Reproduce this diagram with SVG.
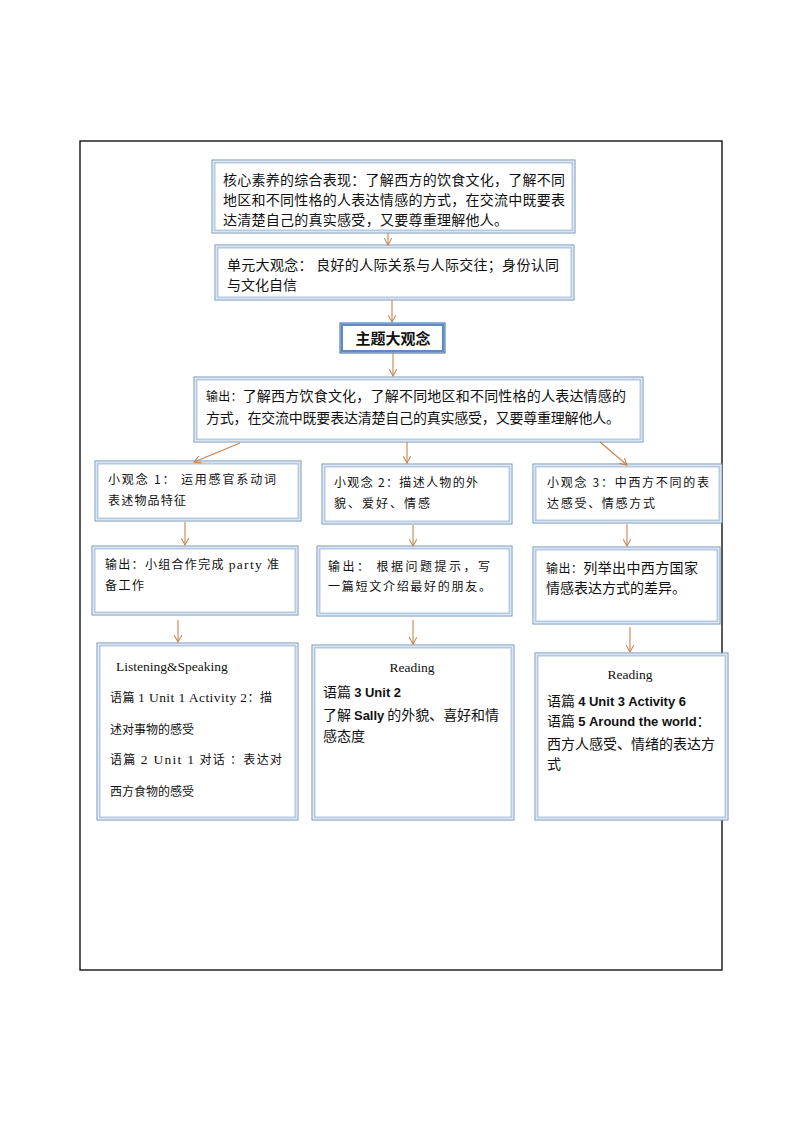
<svg xmlns="http://www.w3.org/2000/svg" width="794" height="1123" viewBox="0 0 794 1123">
<defs>
<marker id="ah" viewBox="0 0 10 10" refX="9" refY="5" markerWidth="8" markerHeight="8" markerUnits="userSpaceOnUse" orient="auto">
<path d="M0,0 L9,5 L0,10" fill="none" stroke="#C8834C" stroke-width="1.3"/>
</marker>
</defs>
<style>
.fr{fill:none;stroke:#000;stroke-width:1.3}
.bo{fill:#fff;stroke:#7393B8;stroke-width:1}
.bi{fill:none;stroke:#B5CAE4;stroke-width:2}
.t{font-family:"Noto Sans CJK SC","Liberation Sans",sans-serif;font-size:14px;fill:#111}
.s{font-family:"Noto Sans CJK SC","Liberation Sans",sans-serif;font-size:12px;fill:#111}
.e{font-family:"Liberation Serif","Noto Sans CJK SC",serif;font-size:13.5px;fill:#111}
.bd{font-family:"Liberation Sans","Noto Sans CJK SC",sans-serif;font-weight:bold;font-size:13px}
.c{fill:none;stroke:#C8834C;stroke-width:1.1;marker-end:url(#ah)}
</style>
<rect x="0" y="0" width="794" height="1123" fill="#fff"/>
<rect class="fr" x="80" y="141" width="642" height="829"/>

<g id="core">
<rect class="bo" x="212" y="160" width="363" height="73"/>
<rect class="bi" x="214.5" y="162.5" width="358" height="68"/>
<text class="t" x="223" y="185" textLength="342" lengthAdjust="spacing">核心素养的综合表现：了解西方的饮食文化，了解不同</text>
<text class="t" x="223" y="205" textLength="342" lengthAdjust="spacing">地区和不同性格的人表达情感的方式，在交流中既要表</text>
<text class="t" x="223" y="225" textLength="285" lengthAdjust="spacing">达清楚自己的真实感受，又要尊重理解他人。</text>
</g>

<g id="unit">
<rect class="bo" x="215" y="245" width="359" height="55"/>
<rect class="bi" x="217.5" y="247.5" width="354" height="50"/>
<text class="t" x="227" y="270" textLength="332" lengthAdjust="spacing">单元大观念： 良好的人际关系与人际交往；身份认同</text>
<text class="t" x="227" y="290">与文化自信</text>
</g>

<g id="theme">
<rect x="340" y="323" width="105" height="30" fill="#fff" stroke="#3B64A0" stroke-width="1"/>
<rect x="341.8" y="324.8" width="101.4" height="26.4" fill="none" stroke="#5B8AC6" stroke-width="2.4"/>
<text x="393" y="344" text-anchor="middle" font-family="Noto Sans CJK SC, sans-serif" font-weight="bold" font-size="15" fill="#111">主题大观念</text>
</g>

<g id="output">
<rect class="bo" x="194" y="377" width="449" height="65"/>
<rect class="bi" x="196.5" y="379.5" width="444" height="60"/>
<text class="t" x="206" y="401" textLength="420" lengthAdjust="spacing"><tspan font-size="12">输出：</tspan>了解西方饮食文化，了解不同地区和不同性格的人表达情感的</text>
<text class="t" x="206" y="423" textLength="414" lengthAdjust="spacing">方式，在交流中既要表达清楚自己的真实感受，又要尊重理解他人。</text>
</g>

<g id="idea1">
<rect class="bo" x="95" y="461" width="206" height="60"/>
<rect class="bi" x="97.5" y="463.5" width="201" height="55"/>
<text class="s" x="108" y="484" textLength="168" lengthAdjust="spacing">小观念 1：  运用感官系动词</text>
<text class="s" x="108" y="505" textLength="78" lengthAdjust="spacing">表述物品特征</text>
</g>

<g id="idea2">
<rect class="bo" x="322" y="464" width="190" height="60"/>
<rect class="bi" x="324.5" y="466.5" width="185" height="55"/>
<text class="s" x="334" y="487" textLength="144" lengthAdjust="spacing">小观念 2：描述人物的外</text>
<text class="s" x="334" y="508" textLength="96" lengthAdjust="spacing">貌、爱好、情感</text>
</g>

<g id="idea3">
<rect class="bo" x="533" y="464" width="189" height="59"/>
<rect class="bi" x="535.5" y="466.5" width="184" height="54"/>
<text class="s" x="547" y="487" textLength="162" lengthAdjust="spacing">小观念 3：中西方不同的表</text>
<text class="s" x="547" y="508" textLength="108" lengthAdjust="spacing">达感受、情感方式</text>
</g>

<g id="out1">
<rect class="bo" x="92" y="546" width="206" height="69"/>
<rect class="bi" x="94.5" y="548.5" width="201" height="64"/>
<text class="s" x="105" y="569" textLength="174" lengthAdjust="spacing">输出：小组合作完成 <tspan font-family="Liberation Serif, serif" font-size="13.5">party</tspan> 准</text>
<text class="s" x="105" y="590" textLength="39" lengthAdjust="spacing">备工作</text>
</g>

<g id="out2">
<rect class="bo" x="317" y="546" width="195" height="70"/>
<rect class="bi" x="319.5" y="548.5" width="190" height="65"/>
<text class="s" x="328" y="571" textLength="162" lengthAdjust="spacing">输出：  根据问题提示，写</text>
<text class="s" x="328" y="591" textLength="163" lengthAdjust="spacing">一篇短文介绍最好的朋友。</text>
</g>

<g id="out3">
<rect class="bo" x="533" y="547" width="187" height="77"/>
<rect class="bi" x="535.5" y="549.5" width="182" height="72"/>
<text class="t" x="546" y="573" textLength="152" lengthAdjust="spacing"><tspan font-size="12">输出：</tspan>列举出中西方国家</text>
<text class="t" x="546" y="593">情感表达方式的差异。</text>
</g>

<g id="text1">
<rect class="bo" x="97" y="643" width="201" height="177"/>
<rect class="bi" x="99.5" y="645.5" width="196" height="172"/>
<text class="e" x="116" y="671">Listening&amp;Speaking</text>
<text class="s" x="110" y="702" textLength="162" lengthAdjust="spacing">语篇 <tspan class="e">1 Unit 1 Activity 2</tspan>：描</text>
<text class="s" x="110" y="734" textLength="84" lengthAdjust="spacing">述对事物的感受</text>
<text class="s" x="110" y="764" textLength="172" lengthAdjust="spacing">语篇 <tspan class="e">2 Unit 1</tspan>  对话 ：表达对</text>
<text class="s" x="110" y="796" textLength="84" lengthAdjust="spacing">西方食物的感受</text>
</g>

<g id="text2">
<rect class="bo" x="312" y="645" width="202" height="175"/>
<rect class="bi" x="314.5" y="647.5" width="197" height="170"/>
<text class="e" x="412" y="672" text-anchor="middle">Reading</text>
<text class="t" x="323" y="697">语篇 <tspan class="bd">3 Unit 2</tspan></text>
<text class="t" x="323" y="720" textLength="176" lengthAdjust="spacing">了解 <tspan class="bd" font-weight="normal">Sally</tspan> 的外貌、喜好和情</text>
<text class="t" x="323" y="741">感态度</text>
</g>

<g id="text3">
<rect class="bo" x="535" y="653" width="193" height="167"/>
<rect class="bi" x="537.5" y="655.5" width="188" height="162"/>
<text class="e" x="630" y="679" text-anchor="middle">Reading</text>
<text class="t" x="547" y="706">语篇 <tspan class="bd">4 Unit 3 Activity 6</tspan></text>
<text class="t" x="547" y="726">语篇 <tspan class="bd">5 Around the world</tspan>：</text>
<text class="t" x="547" y="749" textLength="168" lengthAdjust="spacing">西方人感受、情绪的表达方</text>
<text class="t" x="547" y="769">式</text>
</g>

<g id="connectors">
<line class="c" x1="388" y1="233" x2="388" y2="245"/>
<line class="c" x1="392" y1="300" x2="392" y2="322"/>
<line class="c" x1="393" y1="353" x2="393" y2="376"/>
<line class="c" x1="240" y1="443" x2="194" y2="462"/>
<line class="c" x1="407" y1="442" x2="407" y2="463"/>
<line class="c" x1="600" y1="442" x2="627" y2="465"/>
<line class="c" x1="185" y1="522" x2="185" y2="545"/>
<line class="c" x1="413" y1="525" x2="413" y2="546"/>
<line class="c" x1="627" y1="524" x2="627" y2="546"/>
<line class="c" x1="178" y1="620" x2="178" y2="642"/>
<line class="c" x1="413" y1="620" x2="413" y2="644"/>
<line class="c" x1="630" y1="627" x2="630" y2="652"/>
</g>
</svg>
